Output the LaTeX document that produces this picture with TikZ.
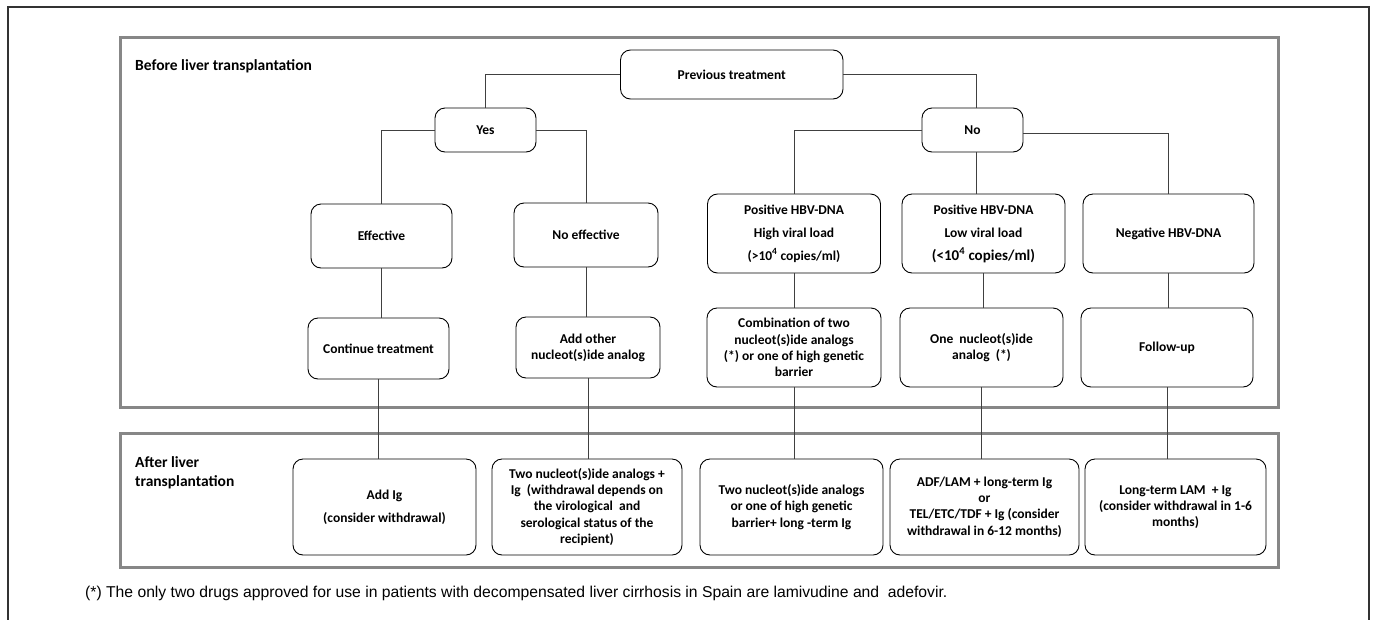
\documentclass[tikz,border=0pt]{standalone}
\usepackage{fontspec}
\setmainfont{Carlito}
\newfontfamily\arialf{Liberation Sans}
\begin{document}
\begin{tikzpicture}[x=1pt,y=-1pt,
  box/.style={draw=black, line width=0.9pt, rounded corners=10pt, align=center, inner sep=0pt,
    font=\bfseries\fontsize{13.5}{16.2}\selectfont},
  sz/.style 2 args={minimum width=#1pt, minimum height=#2pt},
  wide/.style={font=\bfseries\fontsize{13.5}{23}\selectfont},
  frame/.style={draw=black!47, line width=3pt},
  conn/.style={draw=black!75, line width=0.9pt},
  label/.style={inner sep=0pt, align=left, font=\bfseries\fontsize{15.5}{19}\selectfont},
]
\useasboundingbox (0,0) rectangle (1373,619);
\fill[white] (0,0) rectangle (1373,619);
\draw[black!80, line width=1.2pt] (8,630) -- (8,7) -- (1369,7) -- (1369,630);
\draw[frame] (120,37) rectangle (1278,407);
\draw[frame] (120,433) rectangle (1278,567);

\node[label, anchor=base west] (before) at (135,70) {Before liver transplantation};
\node[label, anchor=west] (after) at (135,473) {After liver\\transplantation};

% level 1
\node[box, sz={222.5}{49}] (prev) at (731.75,74.5) {Previous treatment};
\node[box, sz={101}{44}] (yes) at (485.5,130) {Yes};
\node[box, sz={101}{44}] (no) at (972.5,130) {No};
% level 2
\node[box, sz={141}{64}] (eff) at (381.5,236) {Effective};
\node[box, sz={144}{64}] (noeff) at (586,235) {No effective};
\node[box, wide, sz={173}{79}] (poshigh) at (794,233.5) {Positive HBV-DNA\\High viral load\\(>10\textsuperscript{4} copies/ml)};
\node[box, wide, sz={163}{79}] (poslow) at (983.5,233.5) {Positive HBV-DNA\\Low viral load\\{\fontsize{15}{23}\selectfont (<10\textsuperscript{4} copies/ml)}};
\node[box, sz={171}{79}] (neg) at (1168.5,233.5) {Negative HBV-DNA};
% level 3
\node[box, sz={141}{61}] (cont) at (378.5,348.5) {Continue treatment};
\node[box, sz={144}{61}] (addother) at (588,347.5) {Add other\\nucleot(s)ide analog};
\node[box, sz={174}{79}] (comb) at (794,347.5) {Combination of two\\nucleot(s)ide analogs\\(*) or one of high genetic\\barrier};
\node[box, sz={163}{79}] (one) at (981.5,347.5) {One \ nucleot(s)ide\\analog \ (*)};
\node[box, sz={172}{79}] (follow) at (1167,347.5) {Follow-up};
% after
\node[box, wide, sz={183}{96}] (addig) at (384.5,507) {Add Ig\\(consider withdrawal)};
\node[box, sz={190}{96}] (twoig) at (587,507) {Two nucleot(s)ide analogs +\\Ig \ (withdrawal depends on\\the virological \ and\\serological status of the\\recipient)};
\node[box, sz={183}{96}] (two) at (791.5,507) {Two nucleot(s)ide analogs\\or one of high genetic\\barrier+ long -term Ig};
\node[box, sz={189}{96}] (adf) at (984.5,507) {ADF/LAM + long-term Ig\\or\\TEL/ETC/TDF + Ig (consider\\withdrawal in 6-12 months)};
\node[box, sz={181}{96}] (lam) at (1175.5,507) {Long-term LAM \ + Ig\\(consider withdrawal in 1-6\\months)};

\node[inner sep=0pt, anchor=base west, font=\arialf\fontsize{15.7}{18}\selectfont] (fn) at (85,597)
  {(*) The only two drugs approved for use in patients with decompensated liver cirrhosis in Spain are lamivudine and \ adefovir.};

% connectors
\draw[conn] (prev.west) -| (yes.north);
\draw[conn] (prev.east) -| ([xshift=3.5pt]no.north);
\draw[conn] (yes.west) -| (eff.north);
\draw[conn] (yes.east) -| (noeff.north);
\draw[conn] (no.west) -| (poshigh.north);
\draw[conn] ([xshift=3.5pt]no.south) -- ([xshift=3.5pt]no.south |- poslow.north);
\draw[conn] ([yshift=-3pt]no.east) -| (neg.north);
\foreach \a/\b in {eff/cont, noeff/addother, poshigh/comb, poslow/one, neg/follow,
                   cont/addig, addother/twoig, comb/two, one/adf, follow/lam}
  \draw[conn] (\a.south) -- (\a.south |- \b.north);
\end{tikzpicture}
\end{document}
